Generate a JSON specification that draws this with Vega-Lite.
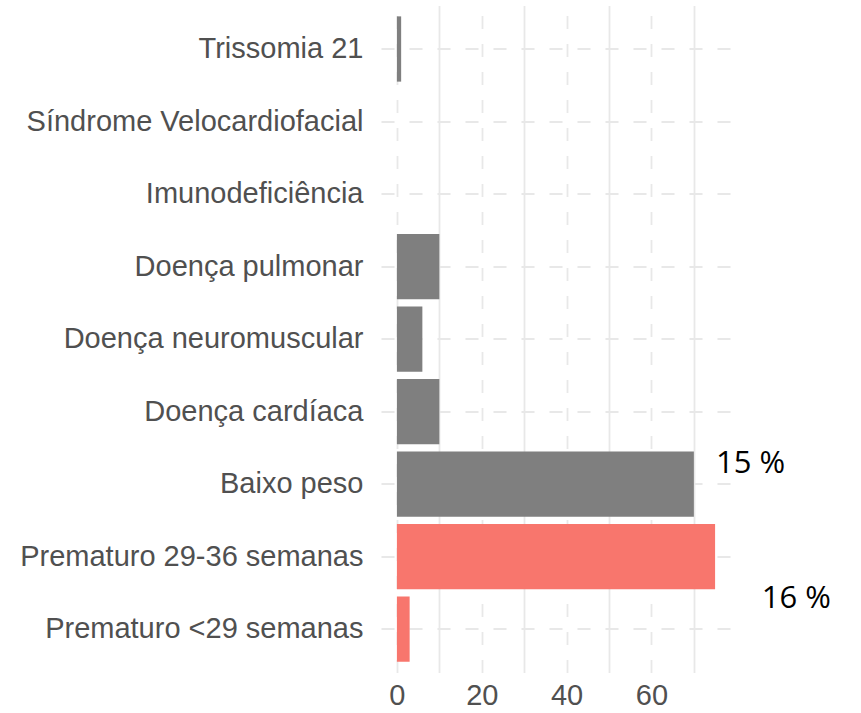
{
  "$schema": "https://vega.github.io/schema/vega-lite/v6.json",
  "autosize": "none",
  "width": 350,
  "height": 667,
  "padding": {"left": 381, "top": 5.5, "right": 130, "bottom": 40.5},
  "background": "white",
  "config": {
    "view": {"stroke": null},
    "font": "Liberation Sans"
  },
  "datasets": {
    "bars": [
      {"fator": "Trissomia 21", "valor": 1, "grupo": "outro"},
      {"fator": "Síndrome Velocardiofacial", "valor": 0, "grupo": "outro"},
      {"fator": "Imunodeficiência", "valor": 0, "grupo": "outro"},
      {"fator": "Doença pulmonar", "valor": 10, "grupo": "outro"},
      {"fator": "Doença neuromuscular", "valor": 6, "grupo": "outro"},
      {"fator": "Doença cardíaca", "valor": 10, "grupo": "outro"},
      {"fator": "Baixo peso", "valor": 70, "grupo": "outro"},
      {"fator": "Prematuro 29-36 semanas", "valor": 75, "grupo": "prematuro"},
      {"fator": "Prematuro <29 semanas", "valor": 3, "grupo": "prematuro"}
    ],
    "notes": [
      {"fator": "Baixo peso", "x": 75.2, "texto": "15 %", "pos": "a"},
      {"fator": "Prematuro <29 semanas", "x": 86.0, "texto": "16 %", "pos": "b"}
    ]
  },
  "encoding": {
    "y": {
      "field": "fator",
      "type": "nominal",
      "sort": ["Trissomia 21", "Síndrome Velocardiofacial", "Imunodeficiência", "Doença pulmonar", "Doença neuromuscular", "Doença cardíaca", "Baixo peso", "Prematuro 29-36 semanas", "Prematuro <29 semanas"],
      "scale": {"paddingInner": 0.1, "paddingOuter": 0.15},
      "axis": {
        "title": null,
        "domain": false,
        "ticks": false,
        "labelFontSize": 29,
        "labelColor": "#505050",
        "labelPadding": 18,
        "labelLimit": 0,
        "labelFont": "Liberation Sans",
        "grid": true,
        "gridColor": "#E8E8E8",
        "gridWidth": 1.8,
        "gridDash": [13, 15],
        "zindex": 0
      }
    }
  },
  "layer": [
    {
      "data": {"name": "bars"},
      "mark": {"type": "bar"},
      "encoding": {
        "x": {
          "field": "valor",
          "type": "quantitative",
          "scale": {"domain": [-3.75, 78.75], "nice": false, "zero": false},
          "axis": {
            "title": null,
            "domain": false,
            "ticks": false,
            "values": [0, 10, 20, 30, 40, 50, 60, 70],
            "labelExpr": "datum.value % 20 === 0 ? datum.label : ''",
            "labelFontSize": 29,
            "labelColor": "#505050",
            "labelPadding": 9,
            "labelFont": "Liberation Sans",
            "grid": true,
            "gridColor": "#E8E8E8",
            "gridWidth": 1.8,
            "gridDash": {"condition": {"test": "datum.value % 20 === 0", "value": [13, 15]}, "value": []},
            "zindex": 0
          }
        },
        "x2": {"datum": 0},
        "color": {
          "field": "grupo",
          "type": "nominal",
          "scale": {"domain": ["outro", "prematuro"], "range": ["#7F7F7F", "#F8766D"]},
          "legend": null
        }
      }
    },
    {
      "data": {"name": "notes"},
      "transform": [{"filter": "datum.pos === 'a'"}],
      "mark": {"type": "text", "align": "left", "baseline": "middle", "font": "Open Sans", "fontSize": 31, "color": "black", "dy": -20, "clip": false},
      "encoding": {
        "x": {"field": "x", "type": "quantitative"},
        "text": {"field": "texto"}
      }
    },
    {
      "data": {"name": "notes"},
      "transform": [{"filter": "datum.pos === 'b'"}],
      "mark": {"type": "text", "align": "left", "baseline": "middle", "font": "Open Sans", "fontSize": 31, "color": "black", "dy": -30, "clip": false},
      "encoding": {
        "x": {"field": "x", "type": "quantitative"},
        "text": {"field": "texto"}
      }
    }
  ]
}
